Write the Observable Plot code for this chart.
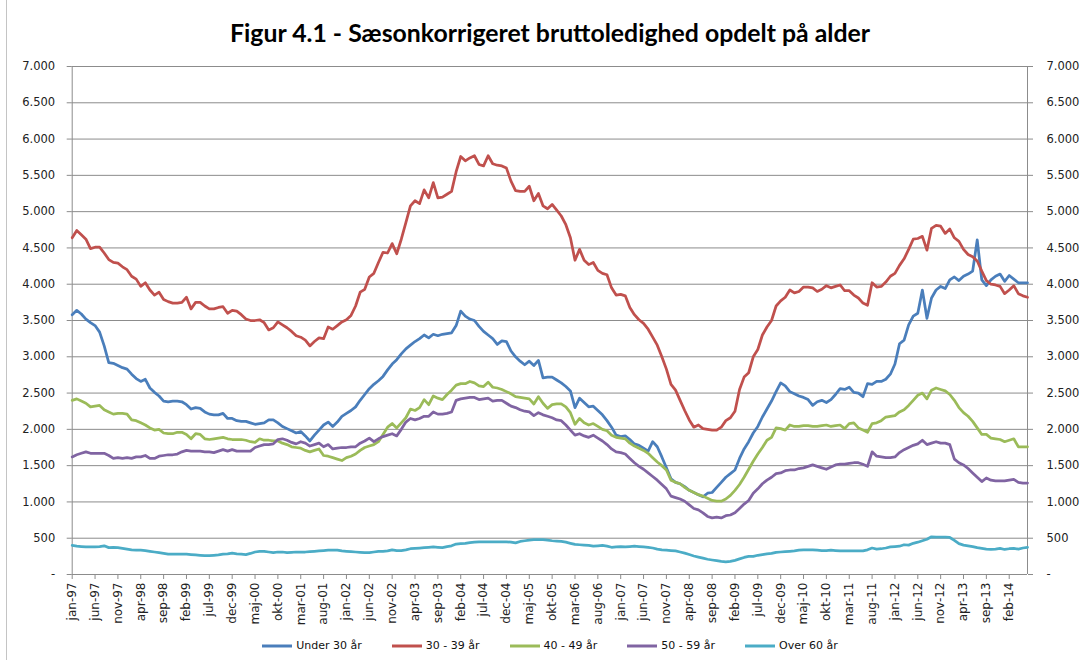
<!DOCTYPE html>
<html>
<head>
<meta charset="utf-8">
<script src="https://cdn.jsdelivr.net/npm/d3@7"></script>
<script src="https://cdn.jsdelivr.net/npm/@observablehq/plot@0.6"></script>
<style>
  html, body { margin: 0; padding: 0; background: #fff; }
  #wrap { position: relative; width: 1080px; height: 660px; overflow: hidden; background: #fff; }
  #frame { position: absolute; left: 6px; top: 0; width: 0; height: 660px; border-left: 1.5px solid #c4c4c4; z-index: 5; }
  #title { position: absolute; left: 0; top: 18px; width: 1100px; text-align: center;
           font-family: Lato, "Open Sans", sans-serif; font-weight: bold; font-size: 24.8px; color: #000; }
  #chart { position: absolute; left: 0; top: 50px; }
  #legend { position: absolute; left: 0; top: 639px; width: 1100px; display: flex; justify-content: center; gap: 30px;
            font-family: "DejaVu Sans", sans-serif; font-size: 11px; color: #111; }
  .item { display: flex; align-items: center; gap: 4px; }
</style>
</head>
<body>
<div id="wrap">
  <div id="title">Figur 4.1 - Sæsonkorrigeret bruttoledighed opdelt på alder</div>
  <div id="chart"></div>
  <div id="legend"></div>
  <div id="frame"></div>
</div>
<script>
// Monthly values, jan-97 ... jun-14 (210 months)
const under30 = [
3580,3640,3590,3520,3470,3430,3340,3150,2920,2910,2880,2850,2830,2760,2700,2660,2690,2570,2510,2460,
2390,2380,2390,2390,2380,2340,2280,2300,2290,2240,2210,2200,2200,2220,2150,2150,2120,2110,2110,2090,
2070,2080,2090,2130,2130,2090,2040,2010,1980,1950,1970,1910,1840,1920,1990,2060,2100,2040,2100,2180,
2220,2260,2310,2400,2480,2560,2620,2670,2730,2820,2900,2960,3040,3110,3160,3210,3250,3300,3260,3310,
3290,3310,3320,3330,3430,3630,3560,3520,3500,3420,3350,3300,3250,3170,3220,3210,3080,3000,2940,2890,
2940,2880,2950,2710,2720,2720,2680,2640,2590,2530,2300,2430,2370,2310,2320,2260,2200,2120,2030,1920,
1900,1910,1860,1800,1780,1740,1700,1830,1760,1620,1470,1320,1270,1250,1210,1160,1130,1100,1070,1120,
1130,1200,1270,1340,1390,1440,1600,1730,1830,1950,2040,2170,2280,2390,2520,2640,2600,2520,2490,2460,
2440,2410,2330,2380,2400,2370,2410,2480,2560,2550,2580,2510,2500,2450,2630,2620,2660,2660,2690,2760,
2900,3180,3230,3440,3560,3600,3920,3530,3810,3920,3970,3940,4060,4100,4050,4110,4140,4180,4610,4060,
3980,4060,4110,4140,4040,4120,4070,4020,4020,4020];
const age30_39 = [
4640,4740,4680,4620,4490,4510,4510,4430,4340,4300,4290,4240,4200,4110,4070,3970,4020,3920,3850,3890,
3790,3760,3740,3740,3750,3820,3660,3750,3750,3700,3660,3660,3680,3690,3600,3640,3630,3580,3520,3500,
3500,3510,3470,3370,3400,3480,3440,3400,3350,3290,3270,3230,3150,3210,3260,3250,3410,3380,3430,3480,
3510,3570,3700,3890,3930,4100,4150,4300,4440,4430,4560,4420,4620,4850,5080,5150,5110,5300,5190,5400,
5190,5200,5240,5280,5550,5760,5700,5740,5770,5650,5630,5770,5660,5640,5630,5600,5420,5290,5280,5280,
5350,5150,5250,5080,5040,5100,5020,4940,4820,4640,4330,4480,4330,4270,4300,4190,4150,4130,3950,3850,
3860,3840,3680,3580,3510,3460,3380,3270,3160,3000,2830,2620,2540,2400,2260,2130,2030,2060,2010,2000,
1990,1990,2030,2120,2160,2250,2550,2720,2780,3000,3100,3300,3410,3500,3700,3770,3820,3920,3880,3900,
3960,3960,3950,3900,3930,3980,3950,3970,3990,3910,3910,3850,3810,3740,3710,4020,3960,3970,4030,4110,
4150,4260,4350,4480,4620,4630,4660,4470,4770,4810,4800,4700,4760,4640,4590,4480,4410,4380,4320,4180,
4050,4000,3990,3970,3870,3920,3980,3870,3840,3820];
const age40_49 = [
2400,2420,2390,2360,2310,2320,2330,2270,2240,2210,2220,2220,2210,2130,2120,2090,2060,2020,1990,2000,
1950,1940,1940,1960,1960,1930,1870,1940,1930,1870,1860,1870,1880,1890,1870,1860,1860,1860,1850,1830,
1820,1870,1850,1850,1840,1840,1810,1790,1760,1750,1740,1710,1690,1710,1730,1640,1630,1610,1590,1570,
1610,1630,1660,1710,1750,1770,1790,1830,1930,2030,2080,2020,2090,2160,2280,2260,2300,2410,2340,2460,
2430,2410,2480,2540,2610,2630,2630,2660,2640,2600,2590,2650,2580,2570,2550,2520,2490,2450,2440,2430,
2420,2350,2450,2360,2290,2340,2350,2350,2310,2230,2070,2150,2090,2060,2080,2040,2000,1980,1920,1890,
1880,1870,1810,1770,1740,1710,1670,1610,1550,1500,1440,1300,1270,1250,1200,1160,1130,1100,1080,1050,
1020,1010,1010,1040,1090,1160,1240,1340,1450,1560,1660,1750,1850,1890,2020,2010,1990,2060,2040,2040,
2050,2050,2040,2040,2050,2060,2040,2050,2060,2010,2080,2090,2020,1990,1960,2080,2090,2120,2170,2180,
2190,2240,2270,2330,2400,2470,2500,2420,2540,2570,2550,2530,2480,2400,2300,2230,2180,2110,2020,1930,
1930,1880,1870,1860,1830,1850,1870,1760,1760,1760];
const age50_59 = [
1620,1650,1670,1690,1670,1670,1670,1670,1640,1600,1610,1600,1610,1600,1620,1620,1640,1600,1600,1630,
1640,1650,1650,1660,1690,1710,1700,1700,1700,1690,1690,1680,1700,1720,1700,1720,1700,1700,1700,1700,
1750,1770,1790,1790,1800,1860,1870,1850,1820,1800,1830,1810,1770,1790,1810,1760,1790,1730,1740,1750,
1750,1760,1760,1810,1840,1880,1830,1870,1900,1920,1940,1910,2000,2100,2150,2130,2150,2180,2180,2240,
2210,2210,2220,2240,2400,2420,2430,2440,2440,2410,2420,2430,2390,2400,2400,2360,2320,2300,2270,2250,
2240,2190,2230,2200,2180,2160,2130,2120,2060,1990,1920,1940,1910,1890,1920,1880,1840,1790,1730,1690,
1680,1660,1600,1540,1490,1450,1400,1350,1300,1240,1180,1080,1060,1040,1010,960,910,890,850,800,
780,790,780,810,820,850,910,970,1020,1120,1180,1250,1300,1340,1390,1400,1430,1440,1440,1460,
1470,1490,1510,1490,1470,1450,1480,1510,1520,1520,1530,1540,1540,1520,1490,1690,1630,1620,1610,1610,
1620,1680,1720,1750,1780,1800,1850,1790,1810,1830,1810,1810,1790,1590,1540,1510,1460,1400,1340,1280,
1330,1300,1290,1290,1290,1300,1310,1270,1260,1260];
const over60 = [
400,390,385,380,380,380,385,395,370,375,370,360,350,340,335,335,330,320,310,300,
290,280,280,280,280,280,275,270,265,260,260,265,270,280,285,295,285,280,275,290,
310,320,320,310,300,310,310,300,305,310,310,310,315,320,325,330,335,335,335,325,
320,315,310,305,300,300,310,320,320,325,340,330,330,340,355,360,365,370,375,380,
375,370,385,395,420,425,430,440,445,450,450,450,450,450,450,450,445,435,455,465,
475,480,480,480,475,465,460,455,445,430,415,410,405,400,390,395,400,390,375,380,
385,380,385,390,385,380,375,365,350,340,335,330,325,310,295,275,255,240,225,210,
200,190,180,175,180,195,215,235,250,250,265,275,285,290,305,310,315,320,325,335,
340,340,340,335,330,330,335,330,325,325,325,325,325,325,340,365,350,355,365,380,
385,390,410,405,430,445,465,485,520,515,515,515,510,470,425,405,395,385,370,360,
350,345,350,360,345,355,360,350,365,375];

const seriesNames = ["Under 30 år", "30 - 39 år", "40 - 49 år", "50 - 59 år", "Over 60 år"];
const seriesColors = ["#4a7ebb", "#c0504d", "#9bbb59", "#8064a2", "#4bacc6"];
const seriesValues = [under30, age30_39, age40_49, age50_59, over60];

const tickLabels = ["jan-97","jun-97","nov-97","apr-98","sep-98","feb-99","jul-99","dec-99","maj-00","okt-00",
"mar-01","aug-01","jan-02","jun-02","nov-02","apr-03","sep-03","feb-04","jul-04","dec-04","maj-05","okt-05",
"mar-06","aug-06","jan-07","jun-07","nov-07","apr-08","sep-08","feb-09","jul-09","dec-09","maj-10","okt-10",
"mar-11","aug-11","jan-12","jun-12","nov-12","apr-13","sep-13","feb-14"];
const tickStep = 5; // months between labelled ticks
const yTicks = d3.range(0, 7001, 500);

const rows = [];
seriesValues.forEach((vals, s) => vals.forEach((v, i) => rows.push({series: seriesNames[s], i, v})));

const fmt = d3.formatLocale({decimal: ",", thousands: ".", grouping: [3], currency: ["", ""]}).format(",");
const yFmt = v => v === 0 ? "-" : fmt(v);
const nMonths = under30.length;
const xTicks = tickLabels.map((_, k) => k * tickStep);
const gridColor = "#8c8c8c";

const chart = Plot.plot({
  width: 1080,
  height: 584,
  marginLeft: 71.7,
  marginRight: 53,
  marginTop: 16,
  marginBottom: 60,
  style: {fontFamily: "DejaVu Sans, sans-serif", fontSize: "11px", background: "white", color: "#222"},
  x: {domain: [0, nMonths - 1], axis: null},
  y: {domain: [0, 7000], axis: null},
  color: {domain: seriesNames, range: seriesColors},
  marks: [
    Plot.ruleY(yTicks.filter(d => d > 0), {stroke: gridColor, strokeWidth: 1}),
    Plot.ruleX([0, nMonths - 1], {stroke: gridColor, strokeWidth: 1}),
    Plot.ruleY([0], {stroke: gridColor, strokeWidth: 1}),
    Plot.axisY({anchor: "left", label: null, ticks: yTicks, tickFormat: yFmt, tickSize: 5, tickPadding: 12, stroke: gridColor, fill: "#222", fontSize: 11.5}),
    Plot.axisY({anchor: "right", label: null, ticks: yTicks, tickFormat: yFmt, tickSize: 5, tickPadding: 14, stroke: gridColor, fill: "#222", fontSize: 11.5}),
    Plot.axisX({label: null, ticks: xTicks, tickFormat: d => tickLabels[d / tickStep], tickRotate: -90, tickSize: 5, tickPadding: 3,
                stroke: gridColor, fill: "#222", fontSize: 12}),
    Plot.lineY(rows, {x: "i", y: "v", z: "series", stroke: "series", strokeWidth: 2.75, strokeLinejoin: "round", strokeLinecap: "round"})
  ]
});
document.getElementById("chart").appendChild(chart);

const legend = document.getElementById("legend");
seriesNames.forEach((name, s) => {
  const item = document.createElement("div");
  item.className = "item";
  item.innerHTML = `<svg width="30" height="8"><line x1="0" y1="4" x2="30" y2="4" stroke="${seriesColors[s]}" stroke-width="3"/></svg><span>${name}</span>`;
  legend.appendChild(item);
});
</script>
</body>
</html>
